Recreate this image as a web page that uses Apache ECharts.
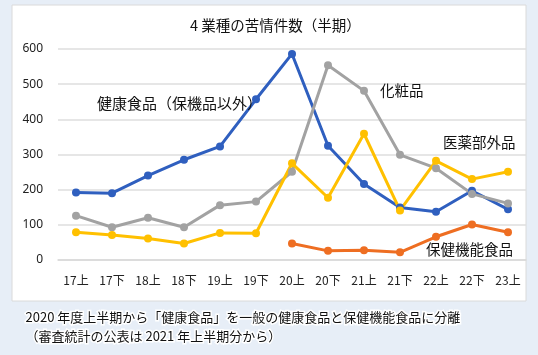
<!DOCTYPE html>
<html><head><meta charset="utf-8">
<script src="https://cdn.jsdelivr.net/npm/echarts@6/dist/echarts.min.js"></script>
<style>html,body{margin:0;padding:0;background:#E7EEF7;}#c{width:538px;height:355px;}</style>
</head><body><div id="c"></div>
<script>
const categories = ['17上','17下','18上','18下','19上','19下','20上','20下','21上','21下','22上','22下','23上'];
const kenkoShokuhin = [192,190,240,285,323,457,586,325,216,149,137,197,144];
const keshohin = [126,93,120,93,156,166,251,554,481,299,261,188,161];
const iyakubugaihin = [79,71,61,47,77,76,275,177,359,141,282,230,251];
const hokenKinoShokuhin = [null,null,null,null,null,null,47,26,28,22,66,101,79];
const yTicks = {min:0, max:600, interval:100};
const titleText = '4 業種の苦情件数（半期）';
const noteLines = ['2020 年度上半期から「健康食品」を一般の健康食品と保健機能食品に分離','（審査統計の公表は 2021 年上半期分から）'];

const FONT = '"Noto Sans CJK JP", "Noto Sans", sans-serif';
const chart = echarts.init(document.getElementById('c'));
function mk(name, data, color){
  return {name, type:'line', data, connectNulls:false, symbol:'circle', symbolSize:8,
    lineStyle:{color, width:3}, itemStyle:{color}, z:3};
}
function lbl(text, x, y, size){
  return {type:'text', left:x, top:y, z:10, style:{text, fontSize:size||14.5, fontFamily:FONT, fill:'#111'}};
}
chart.setOption({
  backgroundColor:'#E7EEF7',
  animation:false,
  grid:{left:58, right:12, top:49, bottom:95},
  xAxis:{type:'category', data:categories, boundaryGap:true,
    axisTick:{show:false}, axisLine:{lineStyle:{color:'#D9D9D9', width:1.5}},
    axisLabel:{color:'#222', fontSize:12, margin:14, fontFamily:FONT}},
  yAxis:{type:'value', min:yTicks.min, max:yTicks.max, interval:yTicks.interval,
    axisLine:{show:false}, axisTick:{show:false},
    splitLine:{lineStyle:{color:'#DEDEDE', width:1.5}},
    axisLabel:{color:'#222', fontSize:12, margin:15, fontFamily:'"Noto Sans", sans-serif'}},
  series:[
    mk('健康食品（保機品以外）', kenkoShokuhin, '#2F5FBF'),
    mk('化粧品', keshohin, '#A2A2A2'),
    mk('医薬部外品', iyakubugaihin, '#FFC000'),
    mk('保健機能食品', hokenKinoShokuhin, '#EE6E22')
  ],
  graphic:[
    {type:'rect', shape:{x:12, y:5, width:514, height:296}, style:{fill:'#fff', stroke:'#DADADA', lineWidth:1}, z:-10},
    {type:'text', left:190, top:18, z:10, style:{text:titleText, fontSize:14.5, fontFamily:FONT, fill:'#111'}},
    lbl('健康食品（保機品以外）', 97, 96, 15),
    lbl('化粧品', 380, 83),
    lbl('医薬部外品', 443, 135),
    lbl('保健機能食品', 426, 242),
    {type:'text', left:24, top:309, z:10, style:{text:noteLines[0], fontSize:13, fontFamily:FONT, fill:'#111', stroke:'#fff', lineWidth:3}},
    {type:'text', left:24, top:328, z:10, style:{text:noteLines[1], fontSize:13, fontFamily:FONT, fill:'#111', stroke:'#fff', lineWidth:3}}
  ]
});
</script></body></html>
